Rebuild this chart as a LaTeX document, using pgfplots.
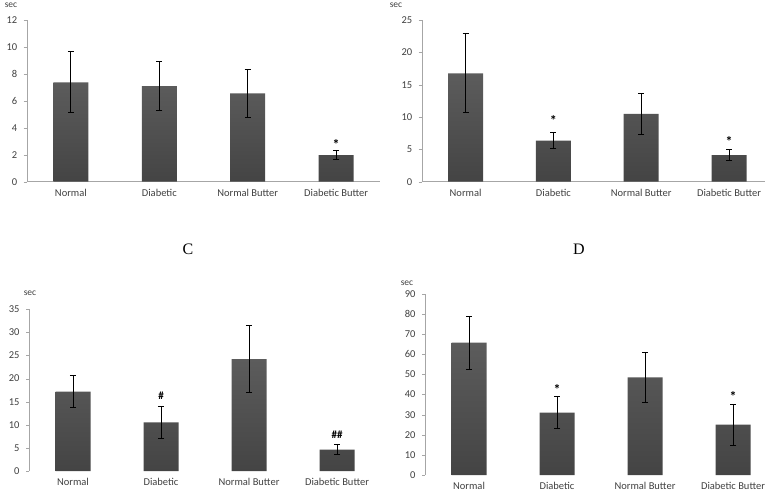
\documentclass[border=0pt]{standalone}
\usepackage{pgfplots}
\pgfplotsset{compat=1.18}
\usepackage{fontspec}
\setmainfont{Carlito}
\newfontfamily\seriff{Liberation Serif}
\definecolor{txt}{HTML}{404040}
\definecolor{axc}{HTML}{A6A6A6}
\definecolor{bartop}{HTML}{5C5C5C}
\definecolor{barbot}{HTML}{444444}
\tikzset{sigmark/.style={font=\fontsize{14}{15}\selectfont\bfseries, text=black, inner sep=0pt}}
\pgfplotsset{
  panel/.style={
    scale only axis, anchor=south west, clip=false,
    ybar, bar width=35pt, ymin=0, xmin=-0.5, xmax=3.5,
    xtick={0,1,2,3},
    xticklabels={Normal,Diabetic,Normal Butter,Diabetic Butter},
    major x tick style={draw=none},
    extra x ticks={0.5,1.5,2.5}, extra x tick labels={},
    extra x tick style={tick style={draw=axc}},
    axis x line*=bottom, axis y line*=left,
    axis line style={axc,-},
    y tick style={axc},
    tick align=outside, major tick length=3pt,
    ticklabel style={font=\fontsize{10.5}{12}\selectfont, text=txt},
    /pgf/number format/assume math mode=true,
    yticklabel style={xshift=-3pt},
    xticklabel style={yshift=-1pt},
  },
  mybar/.style={draw=none, top color=bartop, bottom color=barbot,
      error bars/.cd, y dir=both, y explicit,
      error bar style={line width=0.9pt, black},
      error mark options={rotate=90, mark size=3pt, line width=0.9pt, black}},
}
\begin{document}
\begin{tikzpicture}
\useasboundingbox (0pt,0pt) rectangle (765pt,498pt);
% Panel A
\begin{axis}[panel, at={(26.7pt,316.3pt)}, width=353.6pt, height=161.7pt,
  ymax=12, ytick={0,2,4,6,8,10,12}]
\addplot[mybar] coordinates {(0,7.38) +- (0,2.25) (1,7.10) +- (0,1.80) (2,6.55) +- (0,1.77) (3,1.98) +- (0,0.34)};
\node[sigmark] at (axis cs:3,2.75) {*};
\end{axis}
% Panel B
\begin{axis}[panel, at={(421.7pt,316.3pt)}, width=351.2pt, height=161.7pt,
  ymax=25, ytick={0,5,10,15,20,25}]
\addplot[mybar] coordinates {(0,16.75) +- (0,6.1) (1,6.35) +- (0,1.2) (2,10.5) +- (0,3.2) (3,4.12) +- (0,0.83)};
\node[sigmark] at (axis cs:1,9.4) {*};
\node[sigmark] at (axis cs:3,6.2) {*};
\end{axis}
% Panel C
\begin{axis}[panel, at={(29pt,27pt)}, width=352pt, height=161.7pt,
  ymax=35, ytick={0,5,10,15,20,25,30,35}, x axis line style={draw=none}]
\addplot[mybar] coordinates {(0,17.2) +- (0,3.5) (1,10.5) +- (0,3.5) (2,24.2) +- (0,7.2) (3,4.65) +- (0,1.1)};
\node[sigmark, font=\fontsize{11}{12}\selectfont\bfseries] at (axis cs:1,16.3) {\#};
\node[sigmark, font=\fontsize{11}{12}\selectfont\bfseries] at (axis cs:3,7.9) {\#\#};
\end{axis}
% Panel D
\begin{axis}[panel, at={(425pt,23pt)}, width=352pt, height=181pt,
  ymax=90, ytick={0,10,20,30,40,50,60,70,80,90}, x axis line style={draw=none}]
\addplot[mybar] coordinates {(0,65.8) +- (0,13.2) (1,31.0) +- (0,7.9) (2,48.6) +- (0,12.5) (3,25.0) +- (0,10.3)};
\node[sigmark] at (axis cs:1,42.5) {*};
\node[sigmark] at (axis cs:3,39.0) {*};
\end{axis}
% unit labels
\node[font=\fontsize{9.5}{10}\selectfont, text=txt] at (11pt,493pt) {sec};
\node[font=\fontsize{9.5}{10}\selectfont, text=txt] at (396pt,493pt) {sec};
\node[font=\fontsize{9.5}{10}\selectfont, text=txt] at (30pt,205pt) {sec};
\node[font=\fontsize{9.5}{10}\selectfont, text=txt] at (407pt,215pt) {sec};
% panel letters
\node[font=\fontsize{16}{18}\selectfont\seriff] at (188pt,249pt) {C};
\node[font=\fontsize{16}{18}\selectfont\seriff] at (579pt,249pt) {D};
\end{tikzpicture}
\end{document}
